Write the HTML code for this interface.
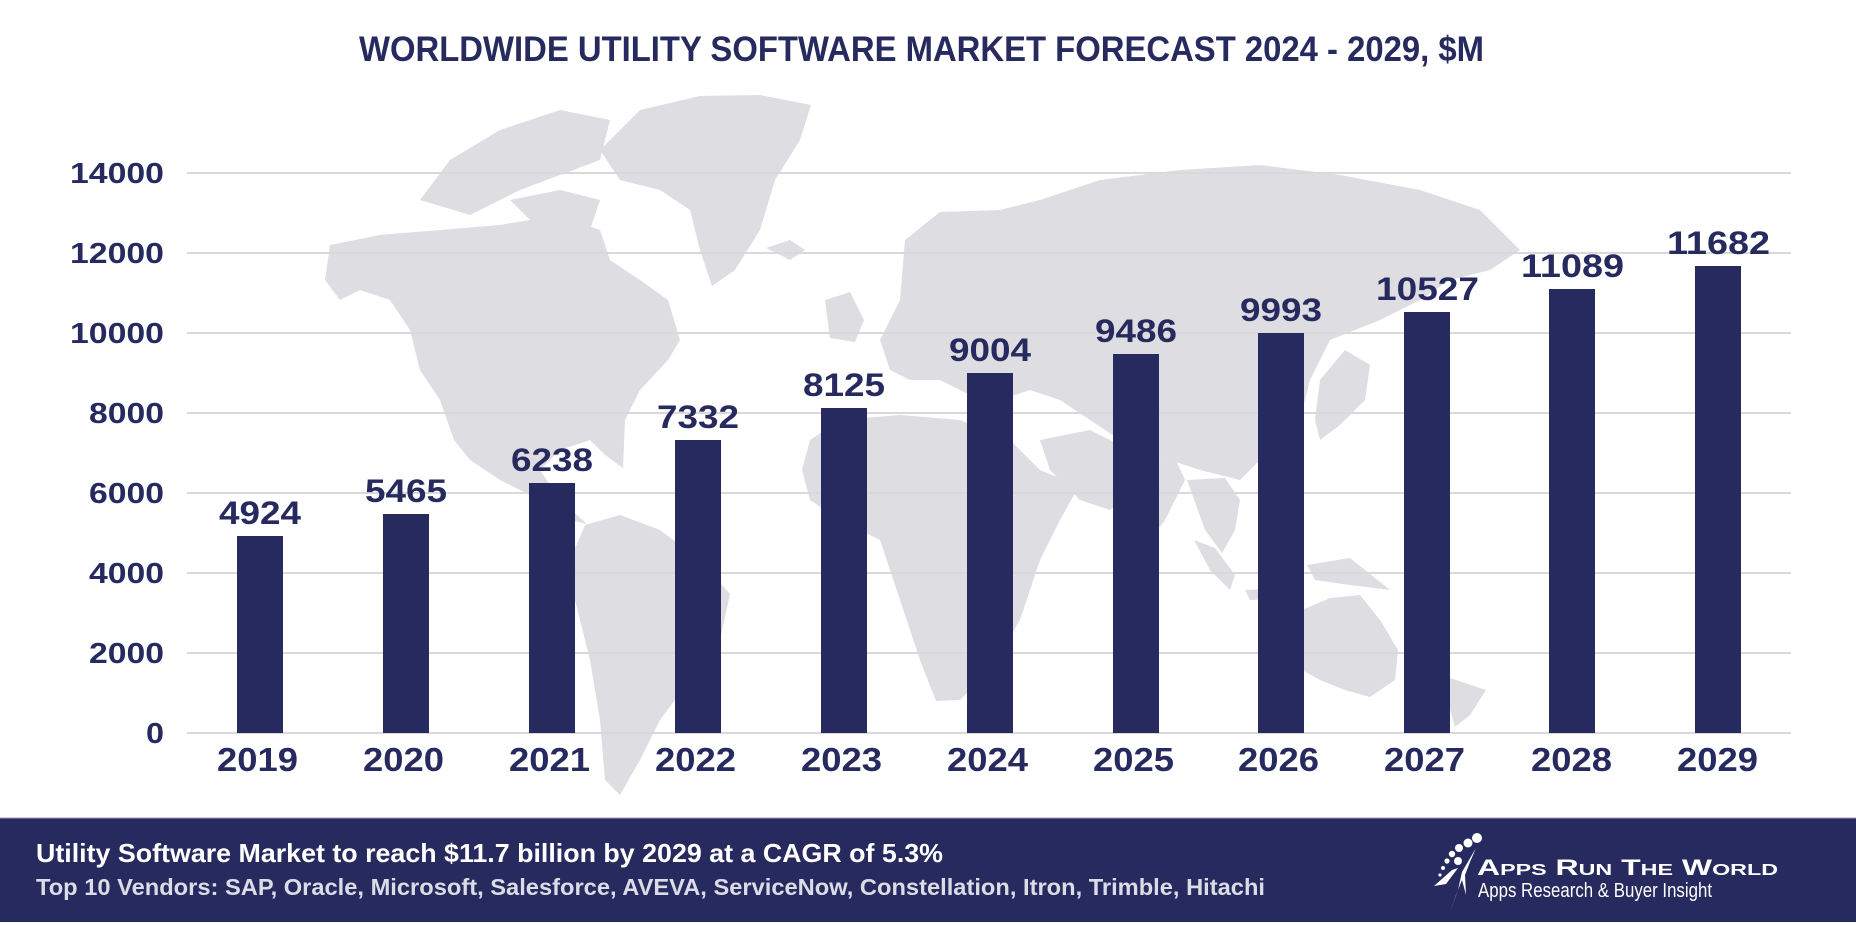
<!DOCTYPE html>
<html><head><meta charset="utf-8"><style>
html,body{margin:0;padding:0;background:#fff;}
svg{display:block;}
</style></head><body>
<svg width="1856" height="926" viewBox="0 0 1856 926" xmlns="http://www.w3.org/2000/svg" font-family="'Liberation Sans', sans-serif">
<rect width="1856" height="926" fill="#fff"/>
<g fill="#dedde2">
<path d="M600,150 L640,110 L700,96 L760,95 L811,105 L800,140 L775,180 L760,230 L735,270 L712,286 L700,250 L690,210 L660,190 L620,180 Z"/>
<path d="M420,200 L450,160 L500,130 L560,110 L610,120 L600,160 L560,175 L520,190 L470,215 Z"/>
<path d="M510,200 L560,190 L600,200 L590,230 L540,230 Z"/>
<path d="M330,245 L380,235 L440,230 L500,225 L560,215 L600,230 L610,260 L640,280 L668,300 L680,340 L668,360 L640,390 L625,420 L623,468 L605,455 L590,440 L560,450 L540,470 L560,500 L587,524 L570,520 L540,500 L500,480 L470,460 L454,440 L440,400 L420,370 L410,330 L390,300 L360,290 L340,300 L325,280 Z"/>
<path d="M585,525 L620,515 L660,530 L700,560 L730,594 L720,640 L690,680 L660,720 L640,760 L620,795 L605,780 L600,720 L590,660 L575,600 L570,560 Z"/>
<path d="M766,248 L790,240 L805,250 L790,260 Z"/>
<path d="M825,300 L850,292 L864,320 L855,342 L830,338 Z"/>
<path d="M880,340 L900,300 L905,240 L940,212 L1000,210 L1040,200 L1100,180 L1180,170 L1260,165 L1340,175 L1420,190 L1480,210 L1520,250 L1490,270 L1450,280 L1420,300 L1380,320 L1330,340 L1310,380 L1300,420 L1260,460 L1240,480 L1200,470 L1170,460 L1140,455 L1120,440 L1090,420 L1060,400 L1030,390 L1000,400 L970,395 L940,380 L910,380 L890,370 Z"/>
<path d="M810,440 L840,420 L900,415 L960,420 L1010,440 L1040,470 L1079,486 L1060,520 L1040,560 L1020,620 L990,670 L960,700 L936,701 L920,660 L900,600 L880,540 L840,520 L810,500 L802,470 Z"/>
<path d="M1040,440 L1090,430 L1130,450 L1150,480 L1110,510 L1080,500 L1050,470 Z"/>
<path d="M1130,460 L1175,458 L1185,480 L1165,520 L1150,540 L1140,510 Z"/>
<path d="M1187,480 L1225,478 L1240,500 L1235,530 L1222,553 L1205,530 Z"/>
<path d="M1194,540 L1215,548 L1235,575 L1230,590 L1210,570 Z"/>
<path d="M1245,590 L1290,588 L1300,598 L1250,600 Z"/>
<path d="M1307,565 L1350,558 L1390,590 L1350,585 L1315,580 Z"/>
<path d="M1302,610 L1330,598 L1360,595 L1380,620 L1398,650 L1395,680 L1370,697 L1345,690 L1320,680 L1302,670 Z"/>
<path d="M1447,677 L1486,690 L1470,715 L1455,727 L1450,710 Z"/>
<path d="M1320,380 L1345,350 L1370,365 L1365,400 L1340,425 L1320,440 L1315,420 Z"/>
</g>
<text x="359" y="61" font-size="35" font-weight="bold" fill="#262a5e" textLength="1125" lengthAdjust="spacingAndGlyphs">WORLDWIDE UTILITY SOFTWARE MARKET FORECAST 2024 - 2029, $M</text>
<g stroke="#d9d9d9" stroke-width="2">
<line x1="187" y1="173" x2="1791" y2="173"/>
<line x1="187" y1="253" x2="1791" y2="253"/>
<line x1="187" y1="333" x2="1791" y2="333"/>
<line x1="187" y1="413" x2="1791" y2="413"/>
<line x1="187" y1="493" x2="1791" y2="493"/>
<line x1="187" y1="573" x2="1791" y2="573"/>
<line x1="187" y1="653" x2="1791" y2="653"/>
<line x1="187" y1="733" x2="1791" y2="733"/>
</g>
<g font-size="29" font-weight="bold" fill="#262a5e">
<text x="70" y="183" textLength="94" lengthAdjust="spacingAndGlyphs">14000</text>
<text x="70" y="263" textLength="94" lengthAdjust="spacingAndGlyphs">12000</text>
<text x="70" y="343" textLength="94" lengthAdjust="spacingAndGlyphs">10000</text>
<text x="89" y="423" textLength="75" lengthAdjust="spacingAndGlyphs">8000</text>
<text x="89" y="503" textLength="75" lengthAdjust="spacingAndGlyphs">6000</text>
<text x="89" y="583" textLength="75" lengthAdjust="spacingAndGlyphs">4000</text>
<text x="89" y="663" textLength="75" lengthAdjust="spacingAndGlyphs">2000</text>
<text x="146" y="743" textLength="18" lengthAdjust="spacingAndGlyphs">0</text>
</g>
<g fill="#262a5e">
<rect x="237" y="536" width="46" height="197"/>
<rect x="383" y="514" width="46" height="219"/>
<rect x="529" y="483" width="46" height="250"/>
<rect x="675" y="440" width="46" height="293"/>
<rect x="821" y="408" width="46" height="325"/>
<rect x="967" y="373" width="46" height="360"/>
<rect x="1113" y="354" width="46" height="379"/>
<rect x="1258" y="333" width="46" height="400"/>
<rect x="1404" y="312" width="46" height="421"/>
<rect x="1549" y="289" width="46" height="444"/>
<rect x="1695" y="266" width="46" height="467"/>
</g>
<g font-size="32" font-weight="bold" fill="#262a5e">
<text x="219" y="524" textLength="82" lengthAdjust="spacingAndGlyphs">4924</text>
<text x="365" y="502" textLength="82" lengthAdjust="spacingAndGlyphs">5465</text>
<text x="511" y="471" textLength="82" lengthAdjust="spacingAndGlyphs">6238</text>
<text x="657" y="428" textLength="82" lengthAdjust="spacingAndGlyphs">7332</text>
<text x="803" y="396" textLength="82" lengthAdjust="spacingAndGlyphs">8125</text>
<text x="949" y="361" textLength="82" lengthAdjust="spacingAndGlyphs">9004</text>
<text x="1095" y="342" textLength="82" lengthAdjust="spacingAndGlyphs">9486</text>
<text x="1240" y="321" textLength="82" lengthAdjust="spacingAndGlyphs">9993</text>
<text x="1376" y="300" textLength="103" lengthAdjust="spacingAndGlyphs">10527</text>
<text x="1521" y="277" textLength="103" lengthAdjust="spacingAndGlyphs">11089</text>
<text x="1667" y="254" textLength="103" lengthAdjust="spacingAndGlyphs">11682</text>
</g>
<g font-size="33" font-weight="bold" fill="#262a5e">
<text x="217" y="771" textLength="81" lengthAdjust="spacingAndGlyphs">2019</text>
<text x="363" y="771" textLength="81" lengthAdjust="spacingAndGlyphs">2020</text>
<text x="509" y="771" textLength="81" lengthAdjust="spacingAndGlyphs">2021</text>
<text x="655" y="771" textLength="81" lengthAdjust="spacingAndGlyphs">2022</text>
<text x="801" y="771" textLength="81" lengthAdjust="spacingAndGlyphs">2023</text>
<text x="947" y="771" textLength="81" lengthAdjust="spacingAndGlyphs">2024</text>
<text x="1093" y="771" textLength="81" lengthAdjust="spacingAndGlyphs">2025</text>
<text x="1238" y="771" textLength="81" lengthAdjust="spacingAndGlyphs">2026</text>
<text x="1384" y="771" textLength="81" lengthAdjust="spacingAndGlyphs">2027</text>
<text x="1531" y="771" textLength="81" lengthAdjust="spacingAndGlyphs">2028</text>
<text x="1677" y="771" textLength="81" lengthAdjust="spacingAndGlyphs">2029</text>
</g>
<rect x="0" y="818" width="1856" height="104" fill="#262a5e"/>
<line x1="0" y1="818" x2="1856" y2="818" stroke="#9a9cc0" stroke-width="1"/>
<text x="36" y="862" font-size="26" font-weight="bold" fill="#ffffff" textLength="907" lengthAdjust="spacingAndGlyphs">Utility Software Market to reach $11.7 billion by 2029 at a CAGR of 5.3%</text>
<text x="36" y="895" font-size="23" font-weight="bold" fill="#dcdce6" textLength="1229" lengthAdjust="spacingAndGlyphs">Top 10 Vendors: SAP, Oracle, Microsoft, Salesforce, AVEVA, ServiceNow, Constellation, Itron, Trimble, Hitachi</text>
<g fill="#fff">
<circle cx="1477" cy="838" r="5"/>
<circle cx="1468" cy="843" r="4.5"/>
<circle cx="1459" cy="848" r="4"/>
<circle cx="1452" cy="854" r="3.2"/>
<circle cx="1447" cy="861" r="2.6"/>
<circle cx="1443" cy="868" r="2"/>
<circle cx="1440" cy="875" r="1.6"/>
<circle cx="1458" cy="861" r="4"/>
<path d="M1476,848 L1462,872 L1458,890 L1450,912 L1456,895 L1462,880 L1466,895 L1465,875 L1470,862 Z"/>
<path d="M1434,886 L1452,870 L1458,868 L1446,884 Z"/>
</g>
<text x="1477" y="875" font-size="22" font-weight="bold" fill="#fff" textLength="301" lengthAdjust="spacingAndGlyphs">A<tspan font-size="16">PPS</tspan> R<tspan font-size="16">UN</tspan> T<tspan font-size="16">HE</tspan> W<tspan font-size="16">ORLD</tspan></text>
<text x="1478" y="897" font-size="20" fill="#fff" textLength="234" lengthAdjust="spacingAndGlyphs">Apps Research &amp; Buyer Insight</text>
</svg>
</body></html>
